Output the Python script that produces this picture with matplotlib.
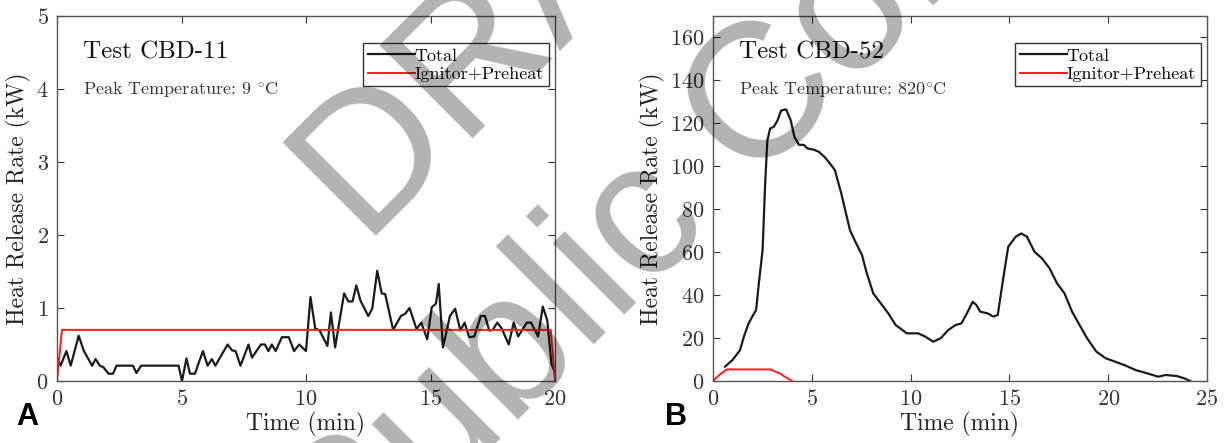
import numpy as np
import matplotlib
matplotlib.use("Agg")
import matplotlib.pyplot as plt

# test CBD-11 (panel A)
time_a = [0.0, 0.06, 0.14, 0.38, 0.55, 0.87, 1.08, 1.41, 1.55, 1.72, 1.86, 2.07, 2.25, 2.39,
          3.05, 3.19, 3.38, 4.88, 5.02, 5.2, 5.34, 5.54, 5.86, 6.05, 6.22, 6.36, 6.85, 7.03,
          7.17, 7.37, 7.69, 7.83, 8.19, 8.35, 8.49, 8.63, 8.78, 9.03, 9.31, 9.52, 9.73, 10.0,
          10.18, 10.37, 10.55, 10.86, 11.0, 11.17, 11.53, 11.7, 11.87, 12.02, 12.19, 12.5,
          12.66, 12.86, 13.04, 13.18, 13.5, 13.81, 13.98, 14.16, 14.44, 14.63, 14.87, 15.05,
          15.22, 15.33, 15.5, 15.78, 15.99, 16.2, 16.37, 16.55, 16.76, 17.02, 17.19, 17.36,
          17.5, 17.68, 17.86, 18.14, 18.34, 18.52, 18.87, 19.04, 19.32, 19.51, 19.69, 19.86,
          19.97]
total_a = [0.32, 0.28, 0.21, 0.41, 0.21, 0.62, 0.41, 0.21, 0.30, 0.21, 0.19, 0.10, 0.10, 0.21,
           0.21, 0.11, 0.21, 0.21, 0.0, 0.31, 0.10, 0.10, 0.41, 0.21, 0.30, 0.21, 0.50, 0.42,
           0.41, 0.21, 0.50, 0.32, 0.50, 0.50, 0.41, 0.50, 0.41, 0.60, 0.60, 0.41, 0.50, 0.41,
           1.15, 0.72, 0.69, 0.48, 0.94, 0.46, 1.20, 1.09, 1.09, 1.31, 1.10, 0.89,
           0.99, 1.51, 1.20, 1.19, 0.70, 0.89, 0.92, 1.00, 0.71, 0.80, 0.57, 1.01,
           1.06, 1.33, 0.46, 0.89, 0.99, 0.69, 0.80, 0.60, 0.61, 0.89, 0.89, 0.69,
           0.70, 0.80, 0.72, 0.50, 0.80, 0.61, 0.80, 0.80, 0.61, 1.02, 0.83, 0.23,
           0.14]
time_ign_a = [0.0, 0.2, 19.83, 20.0]
ign_a = [0.0, 0.7, 0.7, 0.0]

# test CBD-52 (panel B)
time_b = [0.61, 0.99, 1.37, 1.56, 1.80, 2.03, 2.18, 2.32, 2.51, 2.64, 2.75, 2.89, 3.08, 3.27,
          3.45, 3.70, 3.93, 4.12, 4.35, 4.59, 4.78, 5.07, 5.35, 5.64, 5.92, 6.17, 6.49, 6.93,
          7.25, 7.54, 7.76, 8.11, 8.49, 8.87, 9.24, 9.81, 10.38, 10.76, 11.14, 11.52, 11.9,
          12.28, 12.57, 12.85, 13.14, 13.33, 13.52, 13.9, 14.18, 14.41, 14.65, 14.94, 15.32,
          15.6, 15.89, 16.27, 16.65, 17.03, 17.41, 17.79, 18.17, 18.55, 18.93, 19.4, 19.87,
          20.35, 20.82, 21.39, 21.96, 22.53, 22.91, 23.48, 23.86, 24.15]
total_b = [6.7, 9.8, 14.4, 20.6, 26.8, 30.7, 33.0, 45.5, 61.0, 92.0, 112.0, 117.6, 118.4, 121.5,
           126.0, 126.5, 121.5, 113.7, 110.0, 110.0, 108.3, 107.8, 106.8, 104.4, 101.3, 98.2,
           87.4, 70.3, 64.0, 58.7, 50.9, 40.8, 36.2, 31.5, 26.1, 22.2, 22.2, 20.6, 18.3, 19.9,
           23.7, 26.1, 26.8, 31.5, 36.9, 35.4, 32.3, 31.5, 30.0, 30.7, 45.5, 62.5, 67.2,
           68.7, 67.2, 60.2, 57.1, 52.5, 45.5, 40.8, 32.3, 26.1, 19.9, 13.7, 10.6,
           9.0, 7.4, 5.1, 3.6, 2.0, 2.8, 2.3, 1.2, 0.0]
time_ign_b = [0.0, 0.32, 0.7, 2.9, 3.36, 4.0]
ign_b = [0.0, 2.8, 5.4, 5.4, 3.6, 0.0]

plt.rcParams['font.family'] = ['cmr10', 'DejaVu Serif']
plt.rcParams['mathtext.fontset'] = 'cm'
plt.rcParams['axes.formatter.use_mathtext'] = True

W, H = 1225, 443
fig = plt.figure(figsize=(W / 100, H / 100), dpi=100)


def make_panel(rect, t, q, t_ign, q_ign, xmax, xticks, ymax, yticks, title, peak):
    ax = fig.add_axes(rect)
    ax.plot(t, q, color='#1a1a1a', lw=1.6, label='Total')
    ax.plot(t_ign, q_ign, color='#ff1a1a', lw=1.4, label='Ignitor+Preheat')
    ax.set_xlim(0, xmax)
    ax.set_ylim(0, ymax)
    ax.set_xticks(xticks)
    ax.set_yticks(yticks)
    ax.tick_params(direction='in', top=True, right=True, length=5, width=0.8,
                   labelsize=16, colors='#333333', pad=6)
    for s in ax.spines.values():
        s.set_color('#555555')
        s.set_linewidth(1.0)
    ax.set_xlabel('Time (min)', fontsize=17, color='#222222', labelpad=2)
    ax.set_ylabel('Heat Release Rate (kW)', fontsize=17, color='#222222', labelpad=4)
    ax.text(0.053, 0.90, title, transform=ax.transAxes, fontsize=18, va='center',
            color='#111111')
    ax.text(0.053, 0.80, peak, transform=ax.transAxes, fontsize=13, va='center',
            color='#333333')
    leg = ax.legend(loc='upper right', bbox_to_anchor=(0.987, 0.925), fontsize=13,
                    handlelength=2.6, handletextpad=0.0, borderpad=0.25,
                    labelspacing=0.15, borderaxespad=0, fancybox=False, framealpha=1)
    leg.get_frame().set_edgecolor('#333333')
    leg.get_frame().set_linewidth(1.0)
    return ax


ax_a = make_panel([57 / W, 1 - 381 / H, 498 / W, 365 / H], time_a, total_a, time_ign_a, ign_a,
                  20, [0, 5, 10, 15, 20], 5, [0, 1, 2, 3, 4, 5],
                  'Test CBD-11', r'Peak Temperature: 9 $^{\circ}$C')
ax_b = make_panel([713 / W, 1 - 381 / H, 494 / W, 365 / H], time_b, total_b, time_ign_b, ign_b,
                  25, [0, 5, 10, 15, 20, 25], 170, [0, 20, 40, 60, 80, 100, 120, 140, 160],
                  'Test CBD-52', r'Peak Temperature: 820$^{\circ}$C')

# panel letters
fig.text(16 / W, 1 - 425 / H, 'A', fontsize=22, fontweight='bold', family='Liberation Sans')
fig.text(665 / W, 1 - 425 / H, 'B', fontsize=22, fontweight='bold', family='Liberation Sans')

# watermark
wm = dict(fontsize=138, family='Liberation Sans', color='black', alpha=0.3,
          rotation=45, rotation_mode='anchor', ha='left', va='baseline', zorder=10)
fig.text(360 / W, 1 - 236 / H, 'DRAFT', **wm)
fig.text(345 / W, 1 - 595 / H, 'Public Comment', **wm)

fig.savefig('out.png', dpi=100)
